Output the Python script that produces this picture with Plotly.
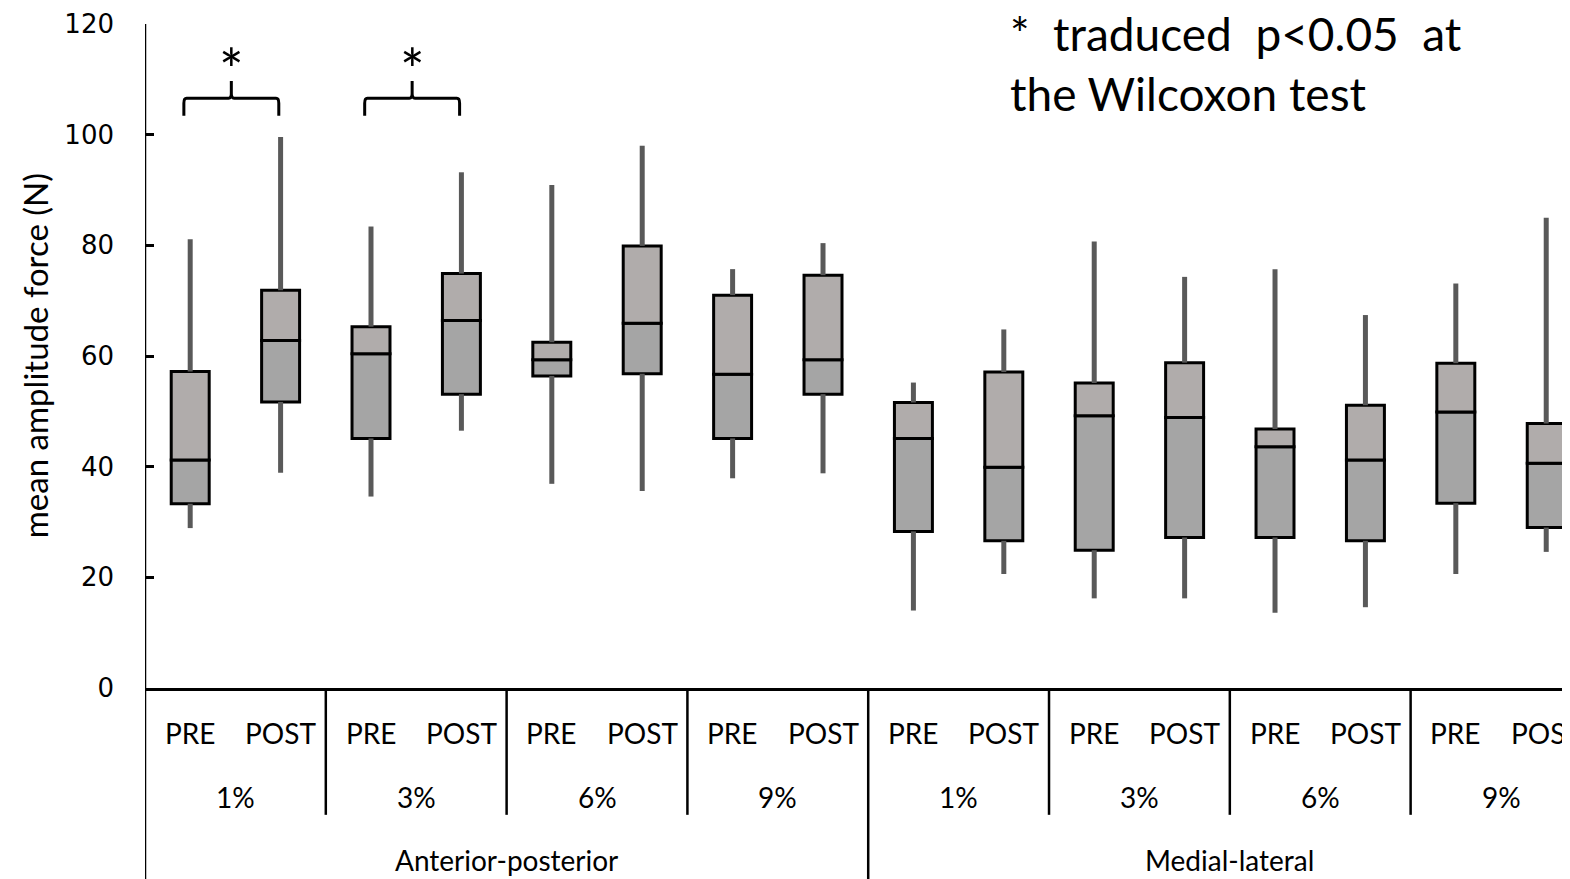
import plotly.graph_objects as go

# ---- data ----
directions = ["Anterior-posterior", "Medial-lateral"]
levels = ["1%", "3%", "6%", "9%"]
phases = ["PRE", "POST"]

whisker_low = [28.9, 38.9, 34.6, 46.5, 36.9, 35.6, 37.9, 38.8,
               14.0, 20.6, 16.2, 16.2, 13.6, 14.6, 20.6, 24.6]
q1 = [33.3, 51.7, 45.1, 53.1, 56.4, 56.8, 45.1, 53.1,
      28.3, 26.6, 24.9, 27.2, 27.2, 26.6, 33.4, 29.0]
median = [41.2, 62.8, 60.4, 66.4, 59.3, 65.9, 56.7, 59.3,
          45.1, 39.9, 49.2, 48.9, 43.6, 41.2, 49.9, 40.6]
q3 = [57.2, 71.9, 65.3, 74.9, 62.5, 79.9, 71.0, 74.6,
      51.6, 57.1, 55.1, 58.8, 46.8, 51.1, 58.7, 47.8]
whisker_high = [81.1, 99.6, 83.4, 93.2, 90.9, 98.0, 75.7, 80.4,
                55.2, 64.8, 80.7, 74.3, 75.7, 67.4, 73.1, 85.0]

significant_pairs = [0, 2]  # index of PRE box in pair with p<0.05
y_ticks = [0, 20, 40, 60, 80, 100, 120]

FONT = "Lato"
n = len(median)
xs = list(range(n))

fig = go.Figure()

# whiskers (outside the boxes only)
wx, wy = [], []
for i in xs:
    wx += [i, i, None, i, i, None]
    wy += [whisker_low[i], q1[i], None, q3[i], whisker_high[i], None]
fig.add_trace(go.Scatter(x=wx, y=wy, mode="lines",
                         line=dict(color="#595959", width=5),
                         hoverinfo="skip", showlegend=False))

box_w = 0.42
# lower part of box (Q1 -> median)
fig.add_trace(go.Bar(x=xs, y=[median[i] - q1[i] for i in xs], base=q1,
                     width=box_w, marker=dict(color="#a5a5a5",
                     line=dict(color="black", width=3)), showlegend=False))
# upper part of box (median -> Q3)
fig.add_trace(go.Bar(x=xs, y=[q3[i] - median[i] for i in xs], base=median,
                     width=box_w, marker=dict(color="#b0acab",
                     line=dict(color="black", width=3)), showlegend=False))

shapes = []
annotations = []

# significance braces
for p in significant_pairs:
    x0, x1 = p - 0.07, p + 1 - 0.02
    xm = (x0 + x1) / 2
    yb, yh, yt = 103.4, 106.6, 109.7
    r = 0.03
    path = (f"M {x0},{yb} L {x0},{yh-0.9} Q {x0},{yh} {x0+r},{yh} "
            f"L {xm-r},{yh} Q {xm},{yh} {xm},{yh+0.9} L {xm},{yt} "
            f"M {xm},{yh+0.9} Q {xm},{yh} {xm+r},{yh} "
            f"L {x1-r},{yh} Q {x1},{yh} {x1},{yh-0.9} L {x1},{yb}")
    shapes.append(dict(type="path", path=path, xref="x", yref="y",
                       line=dict(color="black", width=3)))
    annotations.append(dict(x=xm, y=112.0, xref="x", yref="y", yanchor="middle",
                            text="*", showarrow=False,
                            font=dict(size=58, color="black", family=FONT)))

# x axis category table
bottom = -0.32
row_phase, row_level, row_dir = -0.068, -0.164, -0.259
div_level = -0.191
for i in xs:
    annotations.append(dict(x=i, y=row_phase, xref="x", yref="paper", yanchor="middle",
                            text=phases[i % 2], showarrow=False,
                            font=dict(size=28, color="black", family=FONT)))
for g in range(n // 2):
    annotations.append(dict(x=2 * g + 0.5, y=row_level, xref="x", yref="paper",
                            yanchor="middle", text=levels[g % len(levels)], showarrow=False,
                            font=dict(size=28, color="black", family=FONT)))
    if g > 0:
        long = (g % len(levels) == 0)
        shapes.append(dict(type="line", xref="x", yref="paper",
                           x0=2 * g - 0.5, x1=2 * g - 0.5, y0=0,
                           y1=bottom if long else div_level,
                           line=dict(color="black", width=2.5)))
for d, name in enumerate(directions):
    annotations.append(dict(x=d * 8 + 3.5, y=row_dir, xref="x", yref="paper",
                            yanchor="middle", text=name, showarrow=False,
                            font=dict(size=28, color="black", family=FONT)))
# left axis line continued through the table
shapes.append(dict(type="line", xref="x", yref="paper", x0=-0.5, x1=-0.5,
                   y0=1, y1=bottom, line=dict(color="black", width=2.5)))

# y title
annotations.append(dict(x=-0.077, y=0.5, xref="paper", yref="paper",
                        xanchor="center", yanchor="middle",
                        text="mean amplitude force (N)", textangle=-90,
                        showarrow=False, font=dict(size=33, color="black", family=FONT)))
# note
annotations.append(dict(x=0.6056, y=0.986, xref="paper", yref="paper", xanchor="left",
                        yanchor="middle", text="*  traduced  p&lt;0.05  at", showarrow=False,
                        font=dict(size=46, color="black", family=FONT)))
annotations.append(dict(x=0.6056, y=0.895, xref="paper", yref="paper", xanchor="left",
                        yanchor="middle", text="the Wilcoxon test", showarrow=False,
                        font=dict(size=46, color="black", family=FONT)))

fig.update_layout(
    width=1570, height=879,
    margin=dict(l=137, r=8, t=16, b=199),
    plot_bgcolor="white", paper_bgcolor="white",
    barmode="overlay", showlegend=False,
    shapes=shapes, annotations=annotations,
    xaxis=dict(range=[-0.5, 15.263], showticklabels=False, ticks="",
               showgrid=False, zeroline=False, showline=True, automargin=False,
               linecolor="black", linewidth=2.5),
    yaxis=dict(range=[0, 120], tickvals=y_ticks, ticks="inside", ticklen=9,
               tickwidth=2.5, tickcolor="black", showgrid=False, zeroline=False,
               showline=False, ticklabelstandoff=30, automargin=False,
               tickfont=dict(size=26, color="black", family="DejaVu Sans")),
)

fig.write_html("out.html")
